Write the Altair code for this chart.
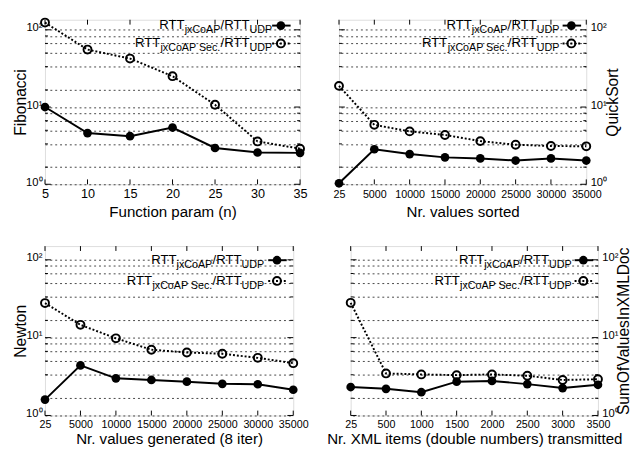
import altair as alt
import pandas as pd

# ---------------- data ----------------
fib_x = ["5", "10", "15", "20", "25", "30", "35"]
fib_a = [10.0, 4.6, 4.19, 5.43, 2.95, 2.58, 2.55]
fib_b = [124, 55.5, 42.4, 25.1, 10.7, 3.59, 2.89]

qs_x = ["25", "5000", "10000", "15000", "20000", "25000", "30000", "35000"]
qs_a = [1.03, 2.84, 2.46, 2.23, 2.16, 2.03, 2.16, 2.03]
qs_b = [18.8, 5.88, 4.84, 4.35, 3.62, 3.25, 3.13, 3.1]

nw_x = ["25", "5000", "10000", "15000", "20000", "25000", "30000", "35000"]
nw_a = [1.6, 4.4, 3.0, 2.86, 2.72, 2.55, 2.52, 2.14]
nw_b = [27.8, 14.6, 9.8, 7.0, 6.45, 6.2, 5.5, 4.7]

xml_x = ["25", "500", "1000", "1500", "2000", "2500", "3000", "3500"]
xml_a = [2.32, 2.2, 1.99, 2.72, 2.78, 2.53, 2.25, 2.48]
xml_b = [28, 3.47, 3.37, 3.3, 3.37, 3.24, 2.86, 2.92]

major_vals = [1, 10, 100]
minor_vals = [10 * k / 6 for k in range(1, 6)] + [100 * k / 6 for k in range(1, 6)]
grid_vals = sorted(major_vals + minor_vals)

FONT = "Liberation Sans"
MAIN = 13.5    # legend main text
SUB = 11       # legend subscript

# Arial / Liberation Sans advance widths (per 1000 em)
AW = {"R": 722, "T": 611, "/": 278, "j": 222, "x": 500, "C": 722, "o": 556,
      "A": 667, "P": 667, " ": 278, "S": 667, "e": 556, "c": 500, ".": 278,
      "U": 722, "D": 722}


def tw(s, size):
    return sum(AW[c] for c in s) * size / 1000.0


one = pd.DataFrame({"k": [0]})


def legend_layers(xend, sym_x, rows):
    layers = []
    for (sub1, filled, yc) in rows:
        base_y = yc + 3.8
        sub_y = yc + 8
        parts = [("RTT", MAIN, base_y), (sub1, SUB, sub_y), ("/RTT", MAIN, base_y), ("UDP", SUB, sub_y)]
        x = xend
        for txt, size, yy in reversed(parts):
            layers.append(alt.Chart(one).mark_text(align="right", baseline="alphabetic", font=FONT,
                                                   fontSize=size, color="black")
                          .encode(x=alt.value(x), y=alt.value(yy), text=alt.value(txt)))
            x -= tw(txt, size)
        rule_kw = dict(color="black", strokeWidth=2)
        if not filled:
            rule_kw["strokeDash"] = [2, 2]
        layers.append(alt.Chart(one).mark_rule(**rule_kw)
                      .encode(x=alt.value(sym_x - 9), x2=alt.value(sym_x + 10), y=alt.value(yc)))
        if filled:
            layers.append(alt.Chart(one).mark_point(shape="circle", filled=True, color="black", size=80, opacity=1)
                          .encode(x=alt.value(sym_x), y=alt.value(yc)))
        else:
            layers.append(alt.Chart(one).mark_point(shape="circle", filled=False, color="black", size=66,
                                                    strokeWidth=2, opacity=1)
                          .encode(x=alt.value(sym_x), y=alt.value(yc)))
    return layers


def panel(xl, a, b, ytitle, xtitle, orient, width, height, ymax, xlab_size,
          xlab_pad, xtitle_pad, ytitle_pad, leg):
    n = len(xl)
    df = pd.DataFrame({"x": xl * 2, "v": a + b, "s": ["a"] * n + ["b"] * n})
    X = alt.X("x:N", sort=xl,
              scale=alt.Scale(type="point", padding=0),
              axis=alt.Axis(title=xtitle, labelAngle=0, grid=False, ticks=False, domain=False,
                            labelFont=FONT, labelFontSize=xlab_size, labelPadding=xlab_pad,
                            labelOverlap=False,
                            titleFont=FONT, titleFontSize=15.5, titleFontWeight="normal",
                            titlePadding=xtitle_pad, labelColor="black", titleColor="black"))
    yaxis_kw = dict(title=ytitle, orient=orient, values=grid_vals,
                    labelExpr="datum.value == 1 ? '10⁰' : datum.value == 10 ? '10¹' : datum.value == 100 ? '10²' : ''",
                    labelOverlap=False, grid=True, gridDash=[2, 3], gridColor="#444",
                    gridWidth=1, ticks=False, domain=False, labelOffset=-2,
                    labelFont=FONT, labelFontSize=11.5,
                    titleFont=FONT, titleFontSize=16, titleFontWeight="normal",
                    titleAngle=270, titlePadding=ytitle_pad, labelColor="black", titleColor="black")
    if orient == "left":
        yaxis_kw.update(labelPadding=3, minExtent=15, maxExtent=15)
    else:
        yaxis_kw.update(labelPadding=4, minExtent=17, maxExtent=17, titleBaseline="top")
    Y = alt.Y("v:Q", scale=alt.Scale(type="log", domain=[1, ymax], nice=False),
              axis=alt.Axis(**yaxis_kw))
    base = alt.Chart(df).encode(x=X, y=Y)
    la = base.transform_filter("datum.s == 'a'").mark_line(color="black", strokeWidth=2)
    lb = base.transform_filter("datum.s == 'b'").mark_line(color="black", strokeWidth=2, strokeDash=[2, 2])
    pa = base.transform_filter("datum.s == 'a'").mark_point(shape="circle", filled=True, color="black",
                                                            size=80, opacity=1)
    pb = base.transform_filter("datum.s == 'b'").mark_point(shape="circle", filled=False, color="black",
                                                            size=66, strokeWidth=2, opacity=1)

    # inward frame ticks (gnuplot style), positioned by the shared scales
    xt = pd.DataFrame({"x": xl})
    ticks = [
        alt.Chart(xt).mark_rule(color="black", strokeWidth=1).encode(
            x=X, y=alt.value(0), y2=alt.value(5)),
        alt.Chart(xt).mark_rule(color="black", strokeWidth=1).encode(
            x=X, y=alt.value(height - 5), y2=alt.value(height)),
    ]
    ymaj = pd.DataFrame({"v": major_vals})
    ymin = pd.DataFrame({"v": minor_vals})
    for d, ln in ((ymaj, 6), (ymin, 3)):
        ticks.append(alt.Chart(d).mark_rule(color="black", strokeWidth=1)
                     .encode(y=Y, x=alt.value(0), x2=alt.value(ln)))
        ticks.append(alt.Chart(d).mark_rule(color="black", strokeWidth=1)
                     .encode(y=Y, x=alt.value(width - ln), x2=alt.value(width)))

    xend, sym_x, y1, y2 = leg
    layers = ticks + [la, pa, pb, lb] + legend_layers(
        xend, sym_x, [("jxCoAP", True, y1), ("jxCoAP Sec.", False, y2)])
    return alt.layer(*layers).properties(width=width, height=height)


tl = panel(fib_x, fib_a, fib_b, "Fibonacci", "Function param (n)", "left", 262, 169, 135,
           13, 3.7, 4.4, 1.6, (233.3, 242.3, 6, 24.3))
tr = panel(qs_x, qs_a, qs_b, "QuickSort", "Nr. values sorted", "right", 254, 169, 135,
           11, 5, 5.1, 2.6, (226.3, 238.7, 6, 24.3))
bl = panel(nw_x, nw_a, nw_b, "Newton", "Nr. values generated (8 iter)", "left", 255, 174, 150,
           11, 3.5, 2.5, 1.6, (225, 238.3, 14.5, 35.8))
br = panel(xml_x, xml_a, xml_b, "SumOfValuesInXMLDoc", "Nr. XML items (double numbers) transmitted", "right",
           254, 174, 150, 11, 3.5, 2.5, 1.6, (227, 239, 14.5, 35.8))

chart = alt.vconcat(
    alt.hconcat(tl, tr, spacing=22),
    alt.hconcat(bl, br, spacing=17),
    spacing=24.5,
).properties(padding={"left": 4, "top": 0, "right": 0, "bottom": 0}).configure_view(
    stroke="black", strokeWidth=1.5
).configure(background="white")

chart.save("out.html", embed_options={"renderer": "svg", "actions": False})
